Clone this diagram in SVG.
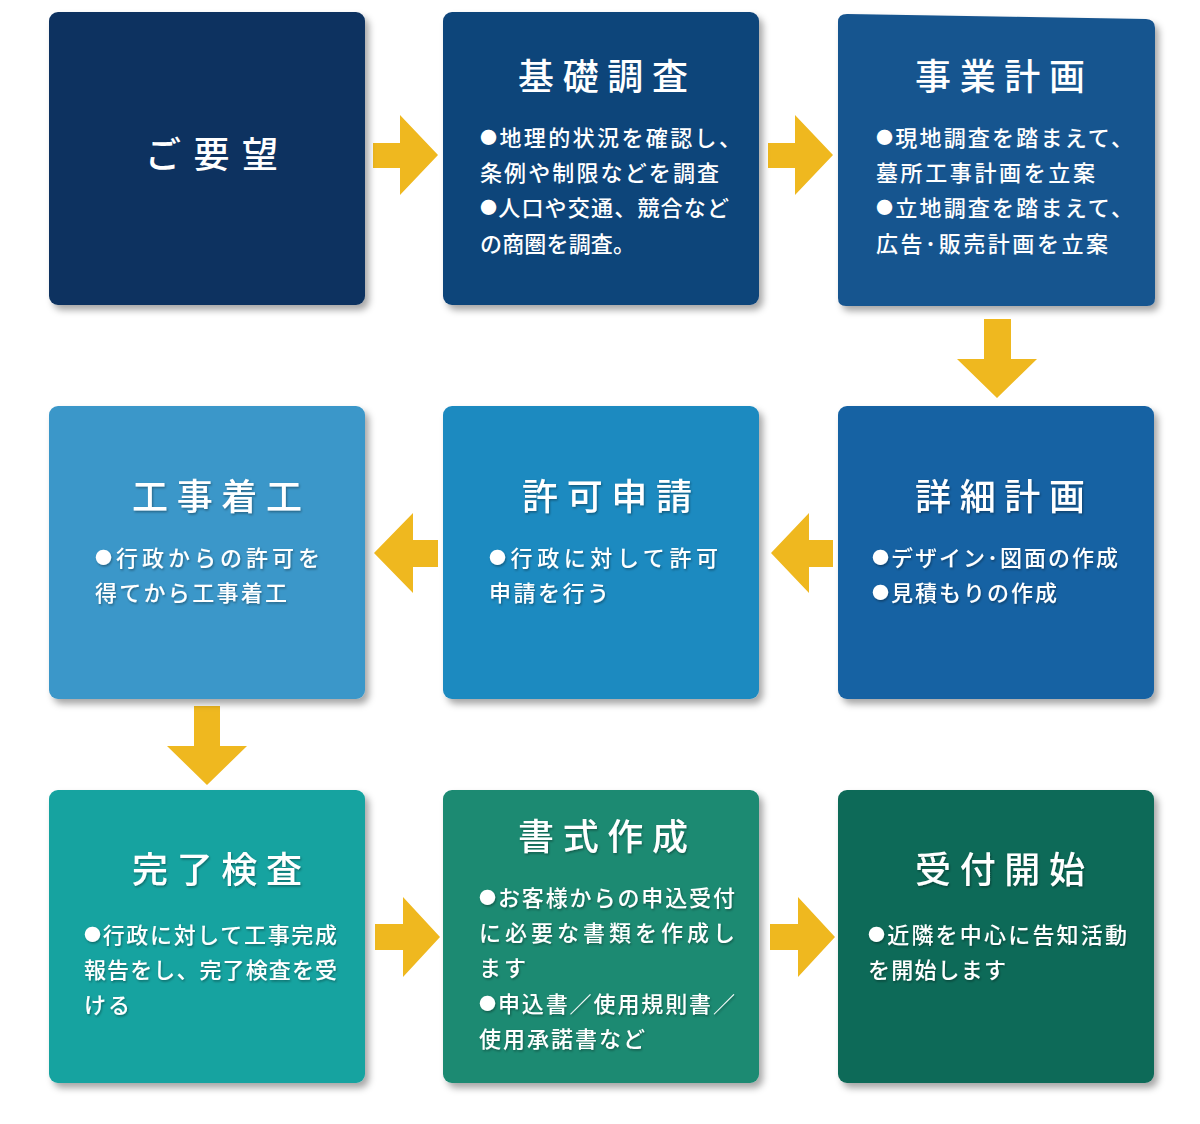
<svg xmlns="http://www.w3.org/2000/svg" width="1200" height="1124" viewBox="0 0 1200 1124">
<defs>
<filter id="sh" x="-10%" y="-10%" width="125%" height="125%">
<feDropShadow dx="4" dy="5" stdDeviation="3.5" flood-color="#000" flood-opacity="0.35"/>
</filter>
<filter id="ts" x="-5%" y="-20%" width="110%" height="150%">
<feDropShadow dx="1" dy="1.5" stdDeviation="1" flood-color="#000" flood-opacity="0.35"/>
</filter>
</defs>
<style>
text{fill:#fff;font-family:"Noto Sans CJK JP","Noto Sans",sans-serif;}
.t{font-size:36px;font-weight:500;}
.b{font-size:22px;font-weight:500;}
.d{font-size:17px;}
.ar{fill:#efb81f;}
</style>
<rect width="1200" height="1124" fill="#fff"/>

<g id="connectors">
<polygon class="ar" points="373,143 400,143 400,115 438,155 400,195 400,168 373,168"/>
<polygon class="ar" points="768,143 795,143 795,115 833,155 795,195 795,168 768,168"/>
<polygon class="ar" points="984,319 1011,319 1011,359 1037,359 997,398 957,359 984,359"/>
<polygon class="ar" points="833,540 809,540 809,513 771,553 809,593 809,567 833,567"/>
<polygon class="ar" points="438,540 413,540 413,513 374,553 413,593 413,567 438,567"/>
<polygon class="ar" points="194,706 220,706 220,746 247,746 207,785 167,746 194,746"/>
<polygon class="ar" points="375,924 403,924 403,897 440,937 403,977 403,950 375,950"/>
<polygon class="ar" points="770,924 798,924 798,897 835,937 798,977 798,950 770,950"/>
</g>

<g id="n1">
<rect x="49" y="12" width="316" height="293" rx="9" fill="#0b3360" filter="url(#sh)"/>
<text class="t" x="145" y="168" textLength="133">ご要望</text>
</g>

<g id="n2">
<rect x="443" y="12" width="316" height="293" rx="9" fill="#10457a" filter="url(#sh)"/>
<text class="t" x="518" y="90" textLength="170">基礎調査</text>
<g class="b">
<text x="480" y="146" textLength="261"><tspan class="d" dy="-2">●</tspan><tspan dy="2">地理的状況を確認し、</tspan></text>
<text x="480" y="181" textLength="239">条例や制限などを調査</text>
<text x="480" y="216" textLength="249"><tspan class="d" dy="-2">●</tspan><tspan dy="2">人口や交通、競合など</tspan></text>
<text x="480" y="252" textLength="155">の商圏を調査。</text>
</g>
</g>

<g id="n3">
<path d="M847,14 L1146,19 Q1155,19.5 1155,28 L1155,298 Q1155,306 1147,306 L846,306 Q838,306 838,298 L838,22 Q838,14 847,14 Z" fill="#16548f" filter="url(#sh)"/>
<text class="t" x="915" y="90" textLength="170">事業計画</text>
<g class="b">
<text x="876" y="146" textLength="257"><tspan class="d" dy="-2">●</tspan><tspan dy="2">現地調査を踏まえて、</tspan></text>
<text x="876" y="181" textLength="219">墓所工事計画を立案</text>
<text x="876" y="216" textLength="257"><tspan class="d" dy="-2">●</tspan><tspan dy="2">立地調査を踏まえて、</tspan></text>
<text x="876" y="252" textLength="232">広告･販売計画を立案</text>
</g>
</g>

<g id="n6">
<rect x="838" y="406" width="316" height="293" rx="9" fill="#1662a3" filter="url(#sh)"/>
<text class="t" x="915" y="510" textLength="170" filter="url(#ts)">詳細計画</text>
<g class="b" filter="url(#ts)">
<text x="872" y="566" textLength="246"><tspan class="d" dy="-2">●</tspan><tspan dy="2">デザイン･図面の作成</tspan></text>
<text x="872" y="601" textLength="185"><tspan class="d" dy="-2">●</tspan><tspan dy="2">見積もりの作成</tspan></text>
</g>
</g>

<g id="n5">
<rect x="443" y="406" width="316" height="293" rx="9" fill="#1f8ac0" filter="url(#sh)"/>
<text class="t" x="522" y="510" textLength="170" filter="url(#ts)">許可申請</text>
<g class="b" filter="url(#ts)">
<text x="489" y="566" textLength="229"><tspan class="d" dy="-2">●</tspan><tspan dy="2">行政に対して許可</tspan></text>
<text x="489" y="601" textLength="120">申請を行う</text>
</g>
</g>

<g id="n4">
<rect x="49" y="406" width="316" height="293" rx="9" fill="#3b97c9" filter="url(#sh)"/>
<text class="t" x="132" y="510" textLength="170" filter="url(#ts)">工事着工</text>
<g class="b" filter="url(#ts)">
<text x="95" y="566" textLength="225"><tspan class="d" dy="-2">●</tspan><tspan dy="2">行政からの許可を</tspan></text>
<text x="95" y="601" textLength="192">得てから工事着工</text>
</g>
</g>

<g id="n7">
<rect x="49" y="790" width="316" height="293" rx="9" fill="#14a3a0" filter="url(#sh)"/>
<text class="t" x="132" y="883" textLength="170" filter="url(#ts)">完了検査</text>
<g class="b" filter="url(#ts)">
<text x="84" y="943" textLength="253"><tspan class="d" dy="-2">●</tspan><tspan dy="2">行政に対して工事完成</tspan></text>
<text x="84" y="978" textLength="253">報告をし、完了検査を受</text>
<text x="84" y="1013" textLength="46">ける</text>
</g>
</g>

<g id="n8">
<rect x="443" y="790" width="316" height="293" rx="9" fill="#1a8a72" filter="url(#sh)"/>
<text class="t" x="518" y="850" textLength="170" filter="url(#ts)">書式作成</text>
<g class="b" filter="url(#ts)">
<text x="479" y="906" textLength="256"><tspan class="d" dy="-2">●</tspan><tspan dy="2">お客様からの申込受付</tspan></text>
<text x="479" y="941" textLength="256">に必要な書類を作成し</text>
<text x="479" y="976" textLength="47">ます</text>
<text x="479" y="1012" textLength="256"><tspan class="d" dy="-2">●</tspan><tspan dy="2">申込書／使用規則書／</tspan></text>
<text x="479" y="1047" textLength="166">使用承諾書など</text>
</g>
</g>

<g id="n9">
<rect x="838" y="790" width="316" height="293" rx="9" fill="#0e6a58" filter="url(#sh)"/>
<text class="t" x="915" y="883" textLength="170" filter="url(#ts)">受付開始</text>
<g class="b" filter="url(#ts)">
<text x="868" y="943" textLength="259"><tspan class="d" dy="-2">●</tspan><tspan dy="2">近隣を中心に告知活動</tspan></text>
<text x="868" y="978" textLength="138">を開始します</text>
</g>
</g>
</svg>
